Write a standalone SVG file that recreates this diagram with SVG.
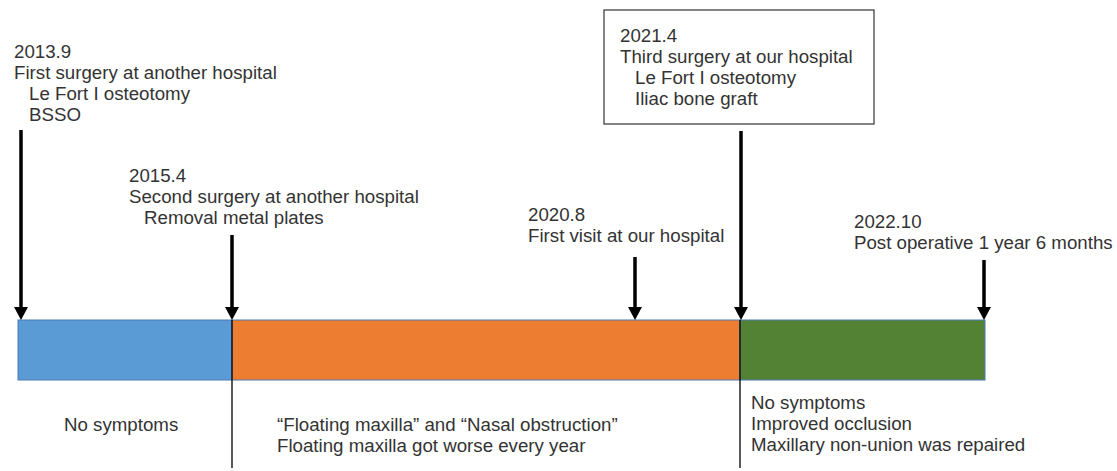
<svg xmlns="http://www.w3.org/2000/svg" width="1117" height="471" viewBox="0 0 1117 471">
<style>
text{font-family:"Liberation Sans",Arial,sans-serif;font-size:18.7px;fill:#333}
.arr{stroke:#000;stroke-width:3.5;fill:none}
.thin{stroke:#000;stroke-width:1.3}
.seg{stroke:#4a7bb7;stroke-width:1}
</style>
<defs>
<marker id="ah" markerWidth="13" markerHeight="14" refX="5" refY="7" orient="auto" markerUnits="userSpaceOnUse" viewBox="0 0 13 14">
<path d="M0,0 L13,7 L0,14 Z" fill="#000"/>
</marker>
</defs>
<rect width="1117" height="471" fill="#fff"/>
<g id="timeline">
<rect class="seg" x="18" y="320" width="214" height="60" fill="#5b9bd5"/>
<rect class="seg" x="232" y="320" width="508" height="60" fill="#ed7d31"/>
<rect class="seg" x="740" y="320" width="245" height="60" fill="#548235"/>
</g>
<g id="connectors">
<line class="arr" x1="21" y1="130" x2="21" y2="312" marker-end="url(#ah)"/>
<line class="arr" x1="232" y1="235" x2="232" y2="312" marker-end="url(#ah)"/>
<line class="arr" x1="635" y1="257" x2="635" y2="312" marker-end="url(#ah)"/>
<line class="arr" x1="741" y1="131" x2="741" y2="312" marker-end="url(#ah)"/>
<line class="arr" x1="984" y1="260" x2="984" y2="312" marker-end="url(#ah)"/>
<line class="thin" x1="232" y1="320" x2="232" y2="468"/>
<line class="thin" x1="740" y1="320" x2="740" y2="468"/>
</g>
<g id="e2013">
<text x="14" y="58">2013.9</text>
<text x="14" y="79">First surgery at another hospital</text>
<text x="29" y="100">Le Fort I osteotomy</text>
<text x="29" y="121">BSSO</text>
</g>
<g id="e2015">
<text x="129" y="182">2015.4</text>
<text x="129" y="203">Second surgery at another hospital</text>
<text x="144" y="224">Removal metal plates</text>
</g>
<g id="e2020">
<text x="528" y="221">2020.8</text>
<text x="528" y="242">First visit at our hospital</text>
</g>
<g id="e2021">
<rect x="604" y="10" width="270" height="114" fill="#fff" stroke="#333" stroke-width="1.2"/>
<text x="620" y="42">2021.4</text>
<text x="620" y="63">Third surgery at our hospital</text>
<text x="635" y="84">Le Fort I osteotomy</text>
<text x="635" y="105">Iliac bone graft</text>
</g>
<g id="e2022">
<text x="854" y="228">2022.10</text>
<text x="854" y="249">Post operative 1 year 6 months</text>
</g>
<g id="p1">
<text x="64" y="431">No symptoms</text>
</g>
<g id="p2">
<text x="277" y="431">“Floating maxilla” and “Nasal obstruction”</text>
<text x="277" y="452">Floating maxilla got worse every year</text>
</g>
<g id="p3">
<text x="751" y="409">No symptoms</text>
<text x="751" y="430">Improved occlusion</text>
<text x="751" y="451">Maxillary non-union was repaired</text>
</g>
</svg>
